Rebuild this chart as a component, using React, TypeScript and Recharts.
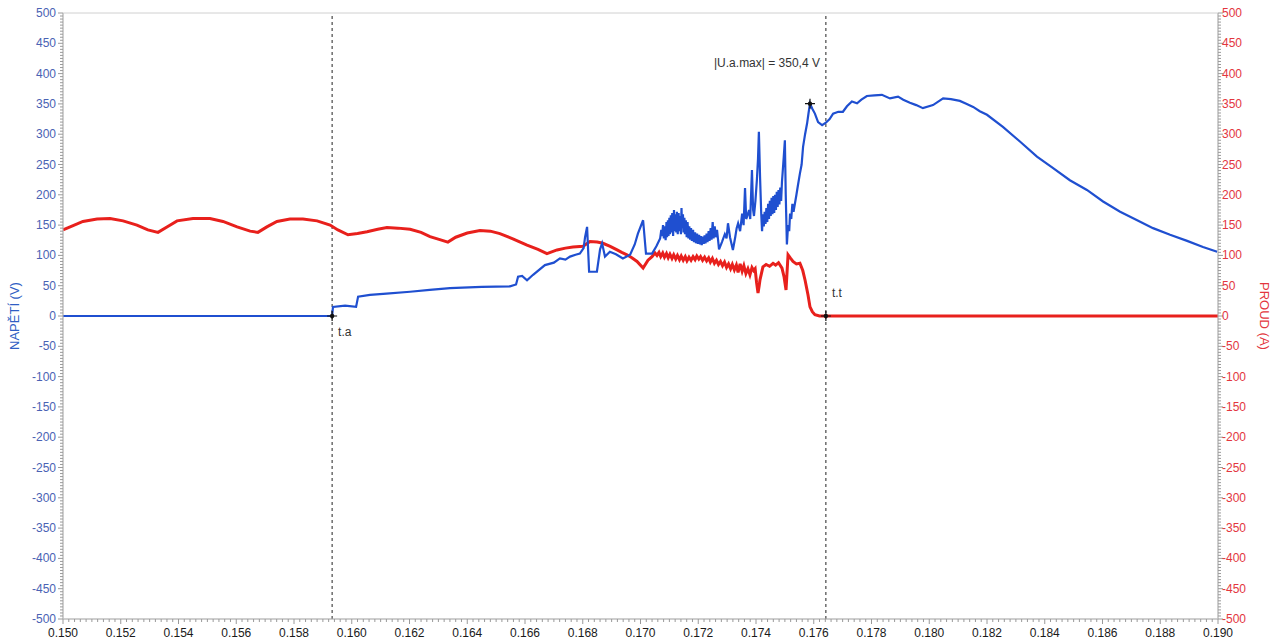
import React from 'react';
import {
  LineChart,
  Line,
  XAxis,
  YAxis,
  CartesianGrid,
  ReferenceLine,
  ReferenceDot,
} from 'recharts';

// napětí (V): čas [s] / hodnota, řádky si odpovídají
const voltTime = [
  0.15, 0.15932, 0.15935, 0.15977, 0.16015, 0.16022, 0.16063, 0.1612, 0.16202, 0.1627,
  0.1634, 0.1645, 0.16548, 0.16569, 0.16576, 0.1659, 0.16607, 0.16628, 0.16669, 0.167,
  0.16721, 0.1674, 0.16756, 0.16775, 0.1679, 0.16803, 0.16808, 0.16815, 0.16822, 0.16849,
  0.1686, 0.16867, 0.16877, 0.16894, 0.16915, 0.16939, 0.16964, 0.1698, 0.16991, 0.17009,
  0.17019, 0.1704, 0.17055,
  0.17068, 0.17072, 0.17075, 0.17078, 0.17081, 0.17084, 0.17087, 0.1709, 0.17092, 0.17095, 0.17097,
  0.171, 0.17102, 0.17105, 0.17107, 0.1711, 0.17113, 0.17116, 0.17118, 0.17121, 0.17124, 0.17126,
  0.17129, 0.17132, 0.17135, 0.17137, 0.1714, 0.17142, 0.17144, 0.17147, 0.17149, 0.17152, 0.17154,
  0.17157, 0.1716, 0.17163, 0.17166, 0.17169, 0.17172, 0.17175, 0.17178, 0.17182, 0.17185, 0.17189,
  0.17192, 0.17196, 0.17199, 0.17203, 0.17206, 0.17209, 0.17212, 0.17216, 0.17219, 0.17222, 0.17225,
  0.17229, 0.17232, 0.17236, 0.17239, 0.17243, 0.17246, 0.1725, 0.17253, 0.17257, 0.17261, 0.17265,
  0.17272, 0.17282, 0.17292, 0.17298, 0.17303, 0.1731, 0.1732, 0.17328, 0.17333, 0.17338,
  0.17345, 0.17352, 0.17357, 0.17362, 0.17366, 0.17369, 0.17376, 0.1738, 0.17386, 0.1739,
  0.17393, 0.17398, 0.17403, 0.17407, 0.1741, 0.17414, 0.17418,
  0.17421, 0.17424, 0.17427, 0.1743, 0.17433, 0.17436, 0.17439, 0.17442, 0.17445,
  0.17448, 0.17451, 0.17454, 0.17457, 0.1746, 0.17463, 0.17466, 0.17469, 0.17472,
  0.17475, 0.17478, 0.17481, 0.17484, 0.17487, 0.1749, 0.17492, 0.17496, 0.175,
  0.17503, 0.17507, 0.17511, 0.17515, 0.17518, 0.17522, 0.17526, 0.1753, 0.17535, 0.1754,
  0.17545, 0.17552, 0.17558, 0.17563, 0.1757, 0.17577, 0.17582, 0.17587, 0.17595, 0.17604,
  0.17615, 0.17629, 0.17642, 0.17655, 0.17667, 0.17685, 0.17701, 0.17715, 0.17732, 0.1775,
  0.17765, 0.17784, 0.1781, 0.17836, 0.17864, 0.17892, 0.1791, 0.17933, 0.17955, 0.17978,
  0.18013, 0.18048, 0.18075, 0.18106, 0.1813, 0.18152, 0.18175, 0.182, 0.18255, 0.18314,
  0.18373, 0.18429, 0.18487, 0.18546, 0.18602, 0.18661, 0.1872, 0.18775, 0.18834, 0.18893,
  0.18948, 0.18997,
];
const voltValue = [
  0, 0, 15, 17, 15, 32, 35, 37, 40, 43,
  46, 48, 49, 52, 65, 66, 59, 68, 84, 88,
  95, 93, 98, 101, 103, 112, 130, 147, 73, 73,
  110, 120, 98, 106, 102, 95, 101, 118, 136, 158,
  103, 103, 115,
  128, 142, 132, 150, 128, 148, 125, 155, 130, 158, 132,
  162, 135, 166, 138, 170, 132, 175, 140, 168, 138, 172,
  135, 170, 140, 165, 135, 178, 145, 168, 138, 162, 135,
  158, 130, 155, 128, 148, 126, 145, 124, 142, 122, 138,
  120, 136, 119, 134, 118, 132, 117, 131, 119, 133, 120,
  136, 122, 140, 124, 145, 126, 155, 128, 148, 130, 142,
  110, 122, 135, 128, 153, 130, 109, 130, 145, 153,
  140, 169, 150, 211, 160, 164, 175, 160, 241, 175,
  165, 190, 224, 260, 304, 230, 170,
  140, 168, 148, 172, 152, 178, 155, 185, 160,
  190, 165, 195, 168, 198, 170, 200, 175, 205,
  180, 208, 184, 212, 190, 222, 235, 262, 290,
  200, 118, 150, 140, 169, 160, 185, 172, 186, 200,
  215, 235, 250, 279, 300, 318, 335, 350.4, 342, 334,
  320, 315, 319, 325, 334, 337, 337, 346, 354, 351,
  357, 363, 364, 365, 359, 362, 357, 352, 348, 343,
  348, 359, 358, 355, 350, 345, 338, 332, 312, 288,
  263, 244, 224, 208, 189, 172, 158, 145, 134, 124,
  114, 106,
];

// proud (A): čas [s] / hodnota
const currTime = [
  0.15, 0.15035, 0.15069, 0.15118, 0.15163, 0.15208, 0.15256, 0.15294, 0.15329, 0.1536,
  0.15395, 0.1545, 0.15509, 0.15554, 0.15603, 0.15648, 0.15675, 0.15706, 0.15741, 0.15786,
  0.15831, 0.1588, 0.15925, 0.15952, 0.15987, 0.1602, 0.16053, 0.1609, 0.16122, 0.1616,
  0.16202, 0.1624, 0.16271, 0.16305, 0.16333, 0.1636, 0.164, 0.16444, 0.1648, 0.16513,
  0.1656, 0.16607, 0.16645, 0.16676, 0.16711, 0.1674, 0.16766, 0.16801, 0.16825, 0.1685,
  0.1687, 0.16895, 0.16919, 0.16935, 0.16953, 0.1697, 0.16988, 0.17009, 0.17026,
  0.1704, 0.1705, 0.17057, 0.17064, 0.1707, 0.17077, 0.17083, 0.1709, 0.17096,
  0.17102, 0.17109, 0.17115, 0.17122, 0.17128, 0.17135, 0.17141, 0.17148, 0.17155,
  0.17161, 0.17168, 0.17175, 0.17182, 0.17189, 0.17195, 0.17202, 0.17208, 0.17215,
  0.17222, 0.17229, 0.17236, 0.17242, 0.17249, 0.17256, 0.17263, 0.1727, 0.17277,
  0.17284, 0.17291, 0.17298, 0.17305, 0.17312, 0.17318, 0.17325, 0.17332, 0.17338,
  0.17345, 0.17352, 0.17358, 0.17365, 0.17372, 0.17379, 0.17386, 0.17392, 0.17397,
  0.17402, 0.17407, 0.17411, 0.17414, 0.17424, 0.17435, 0.17447, 0.17459, 0.17468, 0.17478,
  0.1749, 0.17497, 0.17504, 0.17511, 0.1752, 0.17528, 0.1754, 0.17552, 0.17562, 0.1757,
  0.1758, 0.17587, 0.17595, 0.17604, 0.1762, 0.17642, 0.19,
];
const currValue = [
  142, 149, 156, 160, 161, 157, 150, 142, 138, 147,
  157, 161, 161, 156, 147, 140, 138, 147, 156, 160,
  160, 157, 150, 142, 134, 136, 139, 143, 146, 145,
  143, 138, 131, 126, 122, 130, 137, 141, 140, 136,
  127, 117, 110, 103, 109, 112, 114, 115, 123, 122,
  120, 115, 109, 105, 101, 96, 90, 79, 92,
  98, 104, 100, 105, 98, 104, 97, 103, 96,
  102, 95, 101, 94, 100, 93, 99, 92, 98,
  91, 97, 92, 98, 93, 99, 94, 98, 92,
  97, 91, 96, 89, 95, 87, 92, 85, 90,
  83, 89, 80, 86, 78, 85, 76, 84, 72,
  86, 74, 83, 70, 78, 68, 80, 75, 78,
  55, 38, 50, 60, 81, 85, 82, 87, 84, 88,
  79, 65, 43, 101, 95, 90, 86, 87, 75, 59,
  35, 15, 7, 2, 0, 0, 0,
];

const xMajorTicks = [
  0.15, 0.152, 0.154, 0.156, 0.158, 0.16, 0.162, 0.164, 0.166, 0.168, 0.17,
  0.172, 0.174, 0.176, 0.178, 0.18, 0.182, 0.184, 0.186, 0.188, 0.19,
];
const xMinorTicks = [
  0.151, 0.153, 0.155, 0.157, 0.159, 0.161, 0.163, 0.165, 0.167, 0.169,
  0.171, 0.173, 0.175, 0.177, 0.179, 0.181, 0.183, 0.185, 0.187, 0.189,
];
const yMajorTicks = [
  -500, -450, -400, -350, -300, -250, -200, -150, -100, -50, 0,
  50, 100, 150, 200, 250, 300, 350, 400, 450, 500,
];
const yMinorTicks = [
  -475, -425, -375, -325, -275, -225, -175, -125, -75, -25,
  25, 75, 125, 175, 225, 275, 325, 375, 425, 475,
];

// jemné dílky os (po 0.0002 s a po 5 V/A)
const xFineTicks = Array.from({ length: 201 }, (_, i) => Math.round((0.15 + i * 0.0002) * 1e5) / 1e5);
const yFineTicks = Array.from({ length: 201 }, (_, i) => -500 + i * 5);

const T_A = 0.15932;
const T_T = 0.17642;
const U_MAX_T = 0.17587;
const U_MAX = 350.4;

const voltData = voltTime.map((t, i) => ({ t, v: voltValue[i] }));
const currData = currTime.map((t, i) => ({ t, a: currValue[i] }));

const BLUE = '#1f4fd0';
const RED = '#e8201c';
const FONT = '"Liberation Sans", Arial, sans-serif';

const XTick = ({ x, y, payload }: any) => {
  const v = payload.value;
  const major = Math.abs(v * 500 - Math.round(v * 500)) < 1e-6;
  return (
    <g>
      <line x1={x} x2={x} y1={y} y2={y + (major ? 5 : 3)} stroke="#9a9a9a" />
      {major && (
        <text x={x} y={y + 18} textAnchor="middle" fontSize={12} fontFamily={FONT} fill="#1a1a1a">
          {v.toFixed(3)}
        </text>
      )}
    </g>
  );
};

const LeftTick = ({ x, y, payload }: any) => {
  const v = payload.value;
  const major = v % 50 === 0;
  return (
    <g>
      <line x1={x - (major ? 5 : 3)} x2={x} y1={y} y2={y} stroke="#9a9a9a" />
      {major && (
        <text x={x - 7} y={y + 4} textAnchor="end" fontSize={12} fontFamily={FONT} fill="#4a62b4">
          {v}
        </text>
      )}
    </g>
  );
};

const RightTick = ({ x, y, payload }: any) => {
  const v = payload.value;
  const major = v % 50 === 0;
  return (
    <g>
      <line x1={x} x2={x + (major ? 5 : 3)} y1={y} y2={y} stroke="#9a9a9a" />
      {major && (
        <text x={x + 4} y={y + 4} textAnchor="start" fontSize={12} fontFamily={FONT} fill="#e3363e">
          {v}
        </text>
      )}
    </g>
  );
};

const leftTitle = ({ viewBox }: any) => {
  const cx = viewBox.x + 19;
  const cy = viewBox.y + viewBox.height / 2;
  return (
    <text x={cx} y={cy} transform={`rotate(-90 ${cx} ${cy})`} textAnchor="middle" fontSize={13} fontFamily={FONT} fill="#2f5ec4">
      NAPĚTÍ (V)
    </text>
  );
};

const rightTitle = ({ viewBox }: any) => {
  const cx = viewBox.x + 42;
  const cy = viewBox.y + viewBox.height / 2;
  return (
    <text x={cx} y={cy} transform={`rotate(90 ${cx} ${cy})`} textAnchor="middle" fontSize={13} fontFamily={FONT} fill="#e3363e">
      PROUD (A)
    </text>
  );
};

const marker = (text: string, dx: number, dy: number, anchor: string) => (p: any) => (
  <g>
    <path d={`M${p.cx - 5},${p.cy} L${p.cx + 5},${p.cy} M${p.cx},${p.cy - 5} L${p.cx},${p.cy + 5}`} stroke="#111" strokeWidth={1.2} />
    <circle cx={p.cx} cy={p.cy} r={2.2} fill="#111" />
    <text x={p.cx + dx} y={p.cy + dy} textAnchor={anchor} fontSize={12} fontFamily={FONT} fill="#333">
      {text}
    </text>
  </g>
);

export default function App() {
  return (
    <div style={{ width: 1279, height: 642, background: '#ffffff' }}>
      <style>{'body{margin:0}'}</style>
      <LineChart width={1279} height={642} margin={{ top: 13, right: 0, bottom: 0, left: 0 }}>
        <XAxis
          xAxisId="x"
          dataKey="t"
          type="number"
          domain={[0.15, 0.19]}
          allowDataOverflow
          ticks={xFineTicks}
          interval={0}
          tick={<XTick />}
          tickLine={false}
          tickSize={0}
          tickMargin={0}
          height={23}
          axisLine={{ stroke: '#b5b5b5' }}
        />
        <XAxis xAxisId="xmaj" type="number" domain={[0.15, 0.19]} ticks={xMajorTicks} hide />
        <XAxis xAxisId="xmin" type="number" domain={[0.15, 0.19]} ticks={xMinorTicks} hide />
        <YAxis
          yAxisId="v"
          orientation="left"
          type="number"
          domain={[-500, 500]}
          allowDataOverflow
          ticks={yFineTicks}
          interval={0}
          tick={<LeftTick />}
          tickLine={false}
          tickSize={0}
          tickMargin={0}
          width={63}
          axisLine={{ stroke: '#b5b5b5' }}
          label={{ position: 'center', content: leftTitle }}
        />
        <YAxis
          yAxisId="a"
          orientation="right"
          type="number"
          domain={[-500, 500]}
          allowDataOverflow
          ticks={yFineTicks}
          interval={0}
          tick={<RightTick />}
          tickLine={false}
          tickSize={0}
          tickMargin={0}
          width={61}
          axisLine={{ stroke: '#b5b5b5' }}
          label={{ position: 'center', content: rightTitle }}
        />
        <YAxis yAxisId="ymaj" type="number" domain={[-500, 500]} ticks={yMajorTicks} hide />
        <YAxis yAxisId="ymin" type="number" domain={[-500, 500]} ticks={yMinorTicks} hide />
        <CartesianGrid xAxisId="xmin" yAxisId="ymin" stroke="#ececec" />
        <CartesianGrid xAxisId="xmaj" yAxisId="ymaj" stroke="#dadada" />
        <ReferenceLine x={T_A} xAxisId="x" yAxisId="v" stroke="#222" strokeDasharray="3 3" />
        <ReferenceLine x={T_T} xAxisId="x" yAxisId="v" stroke="#222" strokeDasharray="3 3" />
        <Line
          data={currData}
          dataKey="a"
          xAxisId="x"
          yAxisId="a"
          type="linear"
          stroke={RED}
          strokeWidth={3}
          dot={false}
          activeDot={false}
          isAnimationActive={false}
        />
        <Line
          data={voltData}
          dataKey="v"
          xAxisId="x"
          yAxisId="v"
          type="linear"
          stroke={BLUE}
          strokeWidth={2.2}
          dot={false}
          activeDot={false}
          isAnimationActive={false}
        />
        <ReferenceDot x={T_A} y={0} xAxisId="x" yAxisId="v" r={3} shape={marker('t.a', 6, 20, 'start')} />
        <ReferenceDot x={T_T} y={0} xAxisId="x" yAxisId="v" r={3} shape={marker('t.t', 6, -19, 'start')} />
        <ReferenceDot
          x={U_MAX_T}
          y={U_MAX}
          xAxisId="x"
          yAxisId="v"
          r={3}
          shape={marker('|U.a.max| = 350,4 V', -43, -37, 'middle')}
        />
      </LineChart>
    </div>
  );
}
